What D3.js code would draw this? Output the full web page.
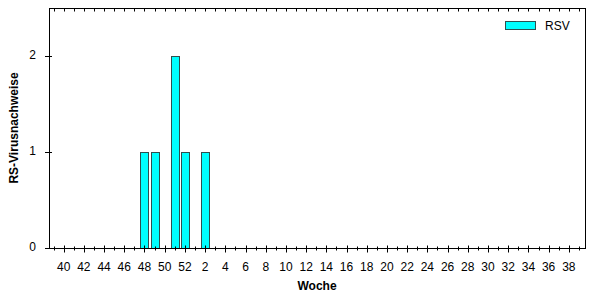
<!DOCTYPE html>
<html>
<head>
<meta charset="utf-8">
<script src="https://cdn.jsdelivr.net/npm/d3@7"></script>
<style>
html,body{margin:0;padding:0;background:#fff;}
svg{display:block;}
text{font-family:"Liberation Sans",Arial,sans-serif;}
</style>
</head>
<body>
<svg id="c" width="602" height="300"></svg>
<script>
// Data
const weeks = [39,40,41,42,43,44,45,46,47,48,49,50,51,52,1,2,3,4,5,6,7,8,9,10,11,12,13,14,15,16,17,18,19,20,21,22,23,24,25,26,27,28,29,30,31,32,33,34,35,36,37,38];
const rsv   = [0,0,0,0,0,0,0,0,0,1,1,0,2,1,0,1,0,0,0,0,0,0,0,0,0,0,0,0,0,0,0,0,0,0,0,0,0,0,0,0,0,0,0,0,0,0,0,0,0,0,0,0];
const yTicks = [0,1,2];
const seriesName = "RSV";

const svg = d3.select("#c");
const L = 49, R = 585, T = 8, B = 248;

const x = d3.scaleLinear().domain([-0.45, 52.6]).range([L, R]);
const y = d3.scaleLinear().domain([0, 2.5]).range([B, T]);
const bw = 8;

// bars
svg.append("g").selectAll("rect").data(weeks.map((w,i)=>({w,i,v:rsv[i]})).filter(d=>d.v>0))
  .enter().append("rect")
  .attr("x", d => Math.round(x(d.i) - bw/2) + 0.5)
  .attr("y", d => Math.round(y(d.v)) + 0.5)
  .attr("width", bw)
  .attr("height", d => Math.round(y(0)) - Math.round(y(d.v)))
  .attr("fill", "#00ffff")
  .attr("stroke", "#2f4f4f")
  .attr("stroke-width", 1);

// frame
svg.append("rect").attr("x", L+0.5).attr("y", T+0.5).attr("width", R-L).attr("height", B-T)
  .attr("fill","none").attr("stroke","#000").attr("stroke-width",1);

// bottom axis
const idx = d3.range(0, 53);
const xb = svg.append("g").attr("transform", `translate(0,${B+0.5})`);
xb.selectAll("line").data(idx).enter().append("line")
  .attr("x1", i => Math.round(x(i))+0.5).attr("x2", i => Math.round(x(i))+0.5)
  .attr("y1", i => (i%2===1 && i<52) ? -3 : -2)
  .attr("y2", i => (i%2===1 && i<52) ? 4 : 2)
  .attr("stroke","#000");
xb.selectAll("text").data(idx.filter(i => i < 52 && weeks[i] % 2 === 0)).enter().append("text")
  .attr("x", i => x(i)).attr("y", 22)
  .attr("text-anchor","middle").attr("font-size",12).attr("fill","#000")
  .text(i => weeks[i]);

// top ticks
svg.append("g").selectAll("line").data(idx).enter().append("line")
  .attr("x1", i => Math.round(x(i))+0.5).attr("x2", i => Math.round(x(i))+0.5)
  .attr("y1", T+0.5).attr("y2", T+3.5).attr("stroke","#000");

// left axis
const yl = svg.append("g");
yl.selectAll("line").data(yTicks).enter().append("line")
  .attr("x1", L-4).attr("x2", L+3)
  .attr("y1", d => Math.round(y(d))+0.5).attr("y2", d => Math.round(y(d))+0.5)
  .attr("stroke","#000");
yl.selectAll("text").data(yTicks).enter().append("text")
  .attr("x", 36).attr("y", d => y(d)+3)
  .attr("text-anchor","end").attr("font-size",12).attr("fill","#000")
  .text(d => d);

// axis titles
svg.append("text").attr("x", (L+R)/2).attr("y", 290)
  .attr("text-anchor","middle").attr("font-size",12).attr("font-weight","bold").text("Woche");
svg.append("text").attr("transform", `translate(18,${(T+B)/2}) rotate(-90)`)
  .attr("text-anchor","middle").attr("font-size",12).attr("font-weight","bold").text("RS-Virusnachweise");

// legend
svg.append("rect").attr("x",505.5).attr("y",21.5).attr("width",30).attr("height",8)
  .attr("fill","#00ffff").attr("stroke","#2f4f4f");
svg.append("text").attr("x",545).attr("y",29.5).attr("font-size",12).text(seriesName);
</script>
</body>
</html>
